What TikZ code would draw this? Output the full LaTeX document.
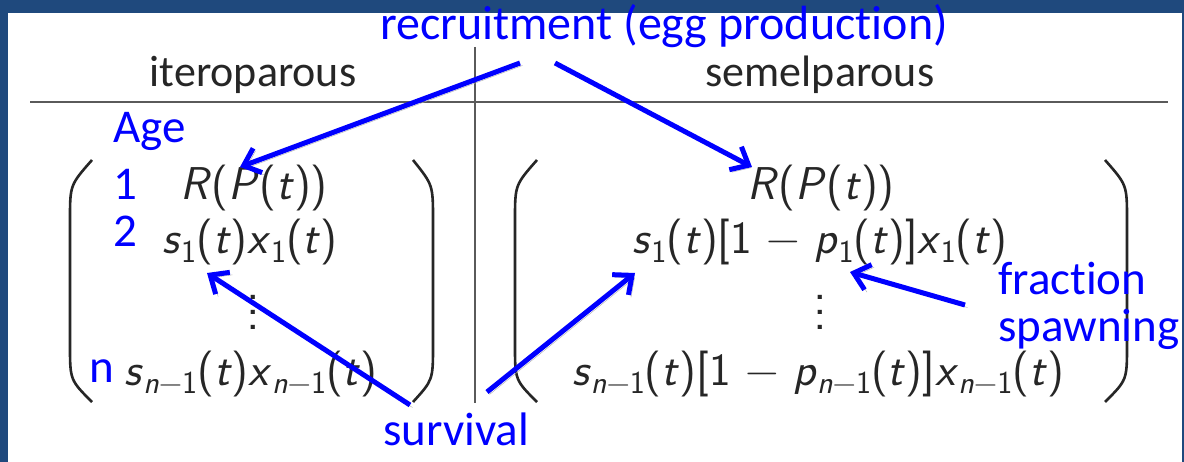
\documentclass[tikz,border=0pt]{standalone}
\usepackage{fontspec}
\setmainfont[Ligatures=NoCommon]{Carlito}
\usepackage{tikz}
\usetikzlibrary{arrows.meta,positioning}
\definecolor{slideblue}{RGB}{31, 73, 125}
\definecolor{noteblue}{RGB}{0, 0, 255}
\definecolor{rulegray}{RGB}{90, 90, 90}

% italic letter and subscript for the vector entries
\newcommand{\mv}[1]{\textit{#1}}
\newcommand{\sbs}[1]{\raisebox{-9pt}{\fontsize{32}{32}\selectfont #1}}

\begin{document}
\begin{tikzpicture}[
        x=1pt, y=-1pt,
        note/.style={text=noteblue, font=\fontsize{47}{50}\selectfont, inner sep=0pt},
        heading/.style={text=black!85, font=\fontsize{44}{48}\selectfont, inner sep=0pt, anchor=base},
        entry/.style={text=black!85, font=\sffamily\fontsize{46}{50}\selectfont, inner sep=0pt, anchor=base},
        vdot/.style={text=black!85, font=\sffamily\fontsize{52}{15}\selectfont, inner sep=0pt, align=center},
        paren/.style={draw=black!85, line width=2.6pt},
        rule/.style={draw=rulegray, line width=2pt},
        pointer/.style={draw=noteblue, line width=5pt, -{Straight Barb[length=15pt,width=26pt]},
            preaction={draw=gray!65, transform canvas={shift={(2.5pt,-2.5pt)}}}}
    ]
        % Slide frame
        \fill[slideblue] (0,0) rectangle (1184,462);
        \fill[white] (8,13) rectangle (1182,462);
        \useasboundingbox (0,0) rectangle (1184,462);

        % Table rules
        \draw[rule] (30,102) -- (1168,102);
        \draw[rule] (475,47) -- (475,403);

        % Column headings
        \node[heading] (itero) at (253,87) {iteroparous};
        \node[heading] (semel) at (820,87) {semelparous};

        % Iteroparous vector
        \draw[paren] (92,160) .. controls (70,185) .. (70,220) -- (70,345) .. controls (70,380) .. (92,402);
        \draw[paren] (413,160) .. controls (433,185) .. (433,220) -- (433,345) .. controls (433,380) .. (413,402);
        \node[entry] (lrow1) at (254,200) {\mv{R}(\mv{P}(\mv{t}))};
        \node[entry] (lrow2) at (250,254) {\mv{s}\sbs{1}(\mv{t})\mv{x}\sbs{1}(\mv{t})};
        \node[vdot] (ldots) at (253,312) {.\\.\\.};
        \node[entry] (lrown) at (251,385) {\mv{s}\sbs{\mv{n}−1}(\mv{t})\mv{x}\sbs{\mv{n}−1}(\mv{t})};

        % Semelparous vector
        \draw[paren] (537,160) .. controls (515,185) .. (515,220) -- (515,345) .. controls (515,380) .. (537,402);
        \draw[paren] (1105,160) .. controls (1127,185) .. (1127,220) -- (1127,345) .. controls (1127,380) .. (1105,402);
        \node[entry] (rrow1) at (821,200) {\mv{R}(\mv{P}(\mv{t}))};
        \node[entry] (rrow2) at (820,254) {\mv{s}\sbs{1}(\mv{t})[1 − \mv{p}\sbs{1}(\mv{t})]\mv{x}\sbs{1}(\mv{t})};
        \node[vdot] (rdots) at (820,312) {.\\.\\.};
        \node[entry] (rrown) at (818,385) {\mv{s}\sbs{\mv{n}−1}(\mv{t})[1 − \mv{p}\sbs{\mv{n}−1}(\mv{t})]\mv{x}\sbs{\mv{n}−1}(\mv{t})};

        % Blue notes
        \node[note, anchor=base, font=\fontsize{48}{50}\selectfont] (recruit) at (664,40) {recruitment (egg production)};
        \node[note, anchor=base west] (age) at (113,143) {Age};
        \node[note, anchor=base west] (age1) at (113,200) {1};
        \node[note, anchor=base west] (age2) at (113,247) {2};
        \node[note, anchor=base west] (agen) at (89,382) {n};
        \node[note, anchor=base] (surv) at (456,446) {survival};
        \node[note, anchor=base west] (frac) at (998,295) {fraction};
        \node[note, anchor=base west] (spawn) at (998,342) {spawning};

        % Arrow ends
        \coordinate (rec1) at (520,63);
        \coordinate (rec2) at (555,63);
        \coordinate (sur1) at (410,405);
        \coordinate (sur2) at (487,392);
        \coordinate (fra1) at (965,305);
        \coordinate (lhead1) at (240,167);
        \coordinate (rhead1) at (752,167);
        \coordinate (lhead2) at (207,273);
        \coordinate (rhead2) at (635,273);
        \coordinate (phead) at (850,272);

        % Pointers
        \draw[pointer] (rec1) -- (lhead1);
        \draw[pointer] (rec2) -- (rhead1);
        \draw[pointer] (sur1) -- (lhead2);
        \draw[pointer] (sur2) -- (rhead2);
        \draw[pointer] (fra1) -- (phead);
\end{tikzpicture}
\end{document}
